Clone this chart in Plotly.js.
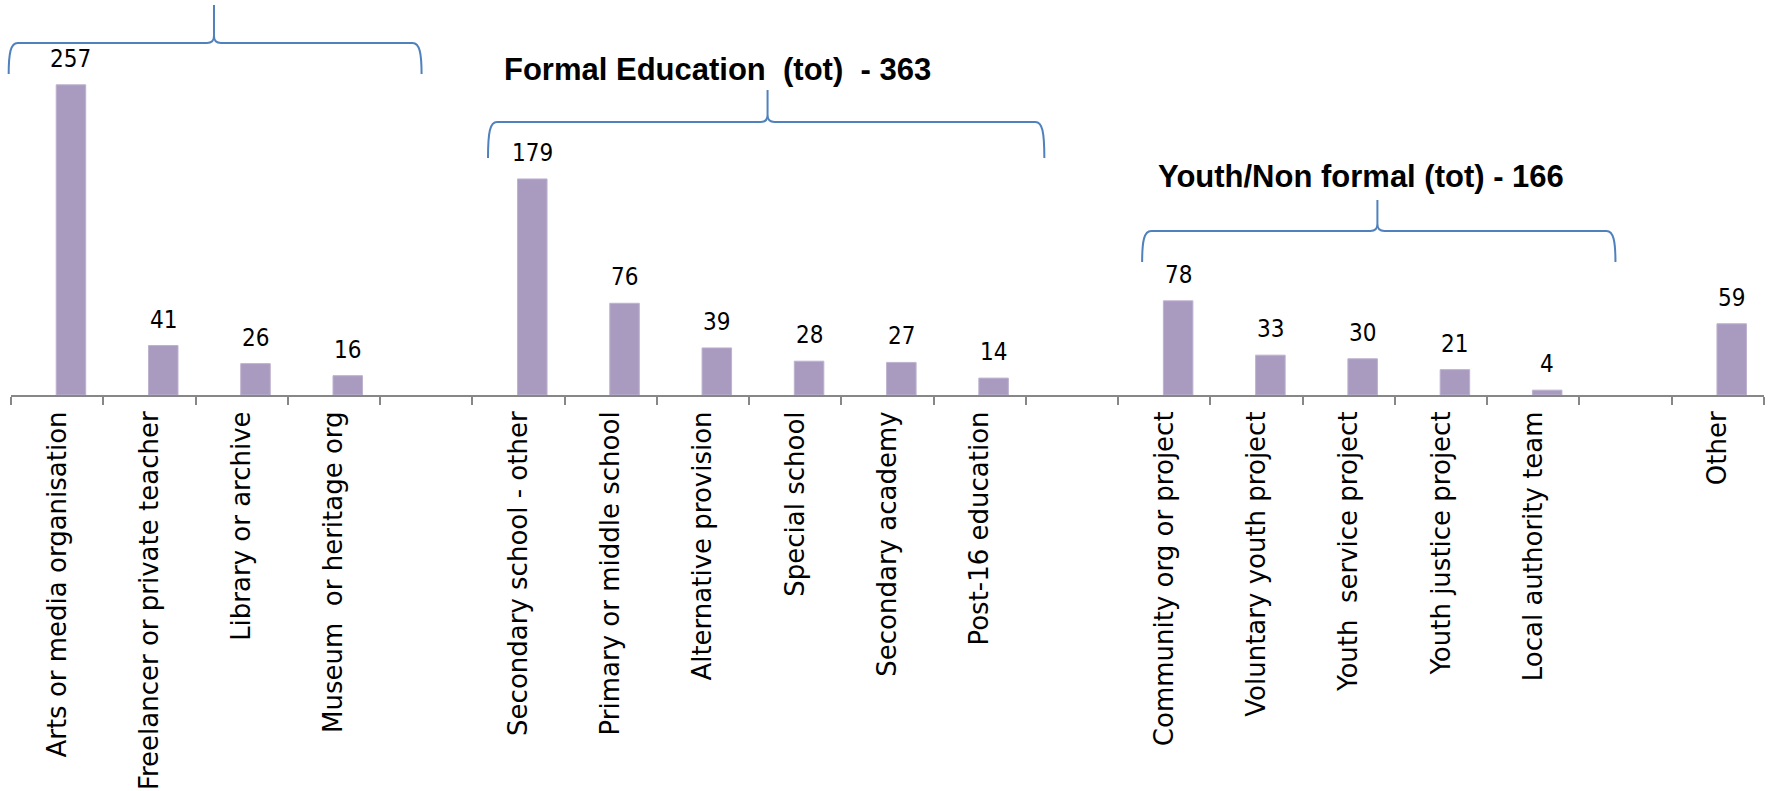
<!DOCTYPE html>
<html><head><meta charset="utf-8">
<script src="https://cdn.plot.ly/plotly-3.0.1.min.js"></script>
<style>html,body{margin:0;padding:0;background:#fff;overflow:hidden}</style>
</head><body><div id="chart" style="width:1769px;height:791px"></div>
<script>
// ---- data ----
const categories = ["Arts or media organisation","Freelancer or private teacher","Library or archive","Museum  or heritage org"," ",
  "Secondary school - other","Primary or middle school","Alternative provision","Special school","Secondary academy","Post-16 education","  ",
  "Community org or project","Voluntary youth project","Youth  service project","Youth justice project","Local authority team","   ","Other"];
const values = [257,41,26,16,null,179,76,39,28,27,14,null,78,33,30,21,4,null,59];
const groupTitles = ["Formal Education  (tot)  - 363", "Youth/Non formal (tot) - 166"];

// ---- layout geometry (styles) ----
const W = 1769, H = 791;
const M = {l: 11, r: 5, t: 0, b: 396};
const PW = W - M.l - M.r, PH = H - M.t - M.b;
const N = categories.length;
const YMAX = PH / 1.207;
const px = X => (X - M.l) / PW;
const py = Y => (M.t + PH - Y) / PH;
const idxX = i => M.l + (i + 0.5) * PW / N;

function brace(i0, i1, im, yH, yEnd, yTip) {
  const x0 = idxX(i0), x1 = idxX(i1), xm = idxX(im);
  const r = 9, rt = 7;
  const P = (X, Y) => px(X).toFixed(5) + ',' + py(Y).toFixed(5);
  return 'M' + P(x0, yEnd) +
    ' C' + P(x0, yH + 10) + ' ' + P(x0 + 2, yH) + ' ' + P(x0 + r, yH) +
    ' L' + P(xm - rt, yH) +
    ' Q' + P(xm, yH) + ' ' + P(xm, yH - rt) +
    ' L' + P(xm, yTip) +
    ' M' + P(xm, yH - rt) +
    ' Q' + P(xm, yH) + ' ' + P(xm + rt, yH) +
    ' L' + P(x1 - r, yH) +
    ' C' + P(x1 - 2, yH) + ' ' + P(x1, yH + 10) + ' ' + P(x1, yEnd);
}

const braces = [
  brace(-0.525, 3.95, 1.70, 43, 74, 5),
  brace(4.67, 10.70, 7.70, 122, 158, 90),
  brace(11.76, 16.89, 14.31, 231, 262, 200)
];

const shapes = braces.map(p => ({
  type: 'path', path: p, xref: 'paper', yref: 'paper',
  line: {color: '#4F81BD', width: 2}
}));

const annotations = [];
values.forEach((v, i) => {
  if (v === null) return;
  annotations.push({
    x: i + 0.15, y: v, xref: 'x', yref: 'y', text: String(v), showarrow: false,
    yanchor: 'bottom', yshift: 10,
    font: {family: 'Liberation Sans Narrow, DejaVu Sans Condensed, sans-serif', size: 24, color: '#000'}
  });
});
const titlePos = [[717, 70], [1361, 177]];
groupTitles.forEach((t, k) => {
  annotations.push({
    x: px(titlePos[k][0]), y: py(titlePos[k][1]), xref: 'paper', yref: 'paper',
    text: '<b>' + t + '</b>', showarrow: false, xanchor: 'center', yanchor: 'middle',
    font: {family: 'Liberation Sans Narrow, Liberation Sans, sans-serif', size: 31, color: '#000'}
  });
});

const trace = {
  type: 'bar', x: categories, y: values, width: 0.32, offset: -0.01,
  marker: {color: '#A99BBF', line: {color: '#BDB2CF', width: 1}},
  hoverinfo: 'skip', cliponaxis: false
};

const layout = {
  width: W, height: H, margin: M, showlegend: false,
  paper_bgcolor: '#fff', plot_bgcolor: '#fff',
  xaxis: {
    type: 'category', range: [-0.5, N - 0.5], tickson: 'boundaries',
    ticks: 'outside', ticklen: 8, tickwidth: 2, tickcolor: '#878787',
    showline: true, linecolor: '#878787', linewidth: 2,
    tickangle: -90, showgrid: false, zeroline: false, automargin: false,
    ticklabelstandoff: 4,
    tickfont: {family: 'DejaVu Sans, Verdana, sans-serif', size: 26, color: '#000'}
  },
  yaxis: {range: [0, YMAX], visible: false, showgrid: false, zeroline: false},
  shapes: shapes, annotations: annotations
};

Plotly.newPlot('chart', [trace], layout, {staticPlot: true, displayModeBar: false});
</script></body></html>
